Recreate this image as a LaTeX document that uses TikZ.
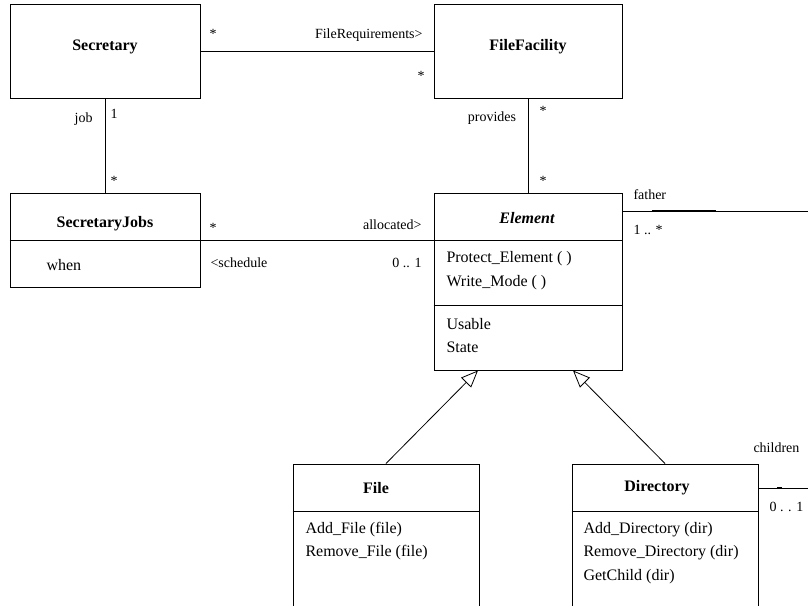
\documentclass[tikz,border=0pt]{standalone}
\usepackage{fontspec}
\setmainfont{Liberation Serif}
\usetikzlibrary{arrows.meta}

\tikzset{
  classbox/.style={draw, line width=1pt, inner sep=0pt},
  classname/.style={font=\fontsize{16}{19}\selectfont\bfseries, inner sep=0pt},
  member/.style={font=\fontsize{16}{19}\selectfont, anchor=west, inner sep=0pt},
  role/.style={font=\fontsize{14}{16}\selectfont, inner sep=0pt},
  generalise/.style={-{Triangle[open, length=17pt, width=14pt, fill=white]}, line width=0.8pt},
}

\begin{document}
\begin{tikzpicture}[x=1pt, y=-1pt, line width=1pt]
\clip (0,0) rectangle (808,605);

% classes
\node[classbox, minimum width=190, minimum height=94] (secretary) at (105,51) {};
\node[classname] (secretaryname) at (105,47) {Secretary};
\node[classbox, minimum width=188, minimum height=94] (facility) at (528,51) {};
\node[classname] (facilityname) at (528,47) {FileFacility};

\node[classbox, minimum width=190, minimum height=94] (jobs) at (105,240) {};
\node[classname] (jobsname) at (105,224) {SecretaryJobs};
\draw (jobs.west) -- (jobs.east);
\node[member] (when) at (46,265) {when};

\node[classbox, minimum width=188, minimum height=177] (element) at (528,281.5) {};
\node[classname, font=\fontsize{16}{19}\selectfont\bfseries\itshape] (elementname) at (527,218) {Element};
\draw (element.west |- 0,240) -- (element.east |- 0,240);
\draw (element.west |- 0,305) -- (element.east |- 0,305);
\node[member] (protect) at (446,259) {Protect\_Element ( )};
\node[member] (writemode) at (446,283) {Write\_Mode ( )};
\node[member] (usable) at (446,324) {Usable};
\node[member] (state) at (446,347) {State};

\node[classbox, minimum width=186, minimum height=176] (file) at (386,552) {};
\node[classname] (filename) at (376,488) {File};
\draw (file.west |- 0,511) -- (file.east |- 0,511);
\node[member] (addfile) at (305,530) {Add\_File (file)};
\node[member] (removefile) at (305,553) {Remove\_File (file)};

\node[classbox, minimum width=186, minimum height=176] (directory) at (665,552) {};
\node[classname] (directoryname) at (657,488) {Directory};
\draw (directory.west |- 0,511) -- (directory.east |- 0,511);
\node[member] (adddir) at (583,530) {Add\_Directory (dir)};
\node[member] (removedir) at (583,553) {Remove\_Directory (dir)};
\node[member] (getchild) at (583,577) {GetChild (dir)};

% associations
\draw (secretary.east) -- (facility.west);
\draw (secretary.south) -- (jobs.north);
\draw (facility.south) -- (element.north);
\draw (jobs.east) -- (jobs.east -| element.west);

\coordinate (fatherend) at (808,211);
\coordinate (childrenend) at (808,488);
\draw (element.east |- fatherend) -- (fatherend);
\draw[line width=2pt] (652,211) -- (716,211);
\draw (directory.east |- childrenend) -- (childrenend);
\draw[line width=2pt] (777,488) -- (782,488);

% generalisation
\draw[generalise] (file.north) -- ([xshift=-50pt]element.south);
\draw[generalise] (directory.north) -- ([xshift=45pt]element.south);

% roles and multiplicities
\node[role] (m1) at (213,34) {*};
\node[role, anchor=east] (filereq) at (423,35) {FileRequirements>};
\node[role] (m2) at (421,76) {*};
\node[role, anchor=east] (job) at (93,119) {job};
\node[role] (m3) at (114,114) {1};
\node[role] (m4) at (114,181) {*};
\node[role] (provides) at (492,118) {provides};
\node[role] (m5) at (543,111) {*};
\node[role] (m6) at (543,181) {*};
\node[role] (m7) at (213,228) {*};
\node[role, anchor=east] (allocated) at (422,225) {allocated>};
\node[role, anchor=west] (schedule) at (210,263) {<schedule};
\node[role, anchor=east] (m8) at (422,263) {0 .. 1};
\node[role, anchor=west] (father) at (633,195) {father};
\node[role, anchor=west] (m9) at (633,230) {1 .. *};
\node[role, anchor=west] (children) at (753,448) {children};
\node[role, anchor=west] (m10) at (769,507) {0 . . 1};
\end{tikzpicture}
\end{document}
